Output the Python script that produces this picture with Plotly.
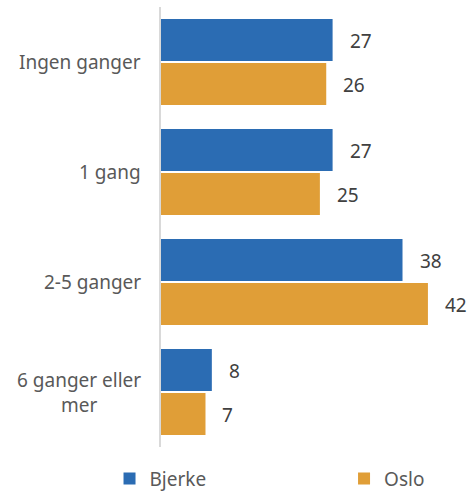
import plotly.graph_objects as go

categories = ["Ingen ganger", "1 gang", "2-5 ganger", "6 ganger eller<br>mer"]
bjerke = [27, 27, 38, 8]
oslo = [26, 25, 42, 7]
series_names = ["Bjerke", "Oslo"]

BLUE = "#2b6cb3"
ORANGE = "#e09e37"
FONT = "Noto Sans"
FS = 19

fig = go.Figure()
fig.add_trace(go.Bar(y=categories, x=bjerke, name=series_names[0], orientation="h",
                     marker=dict(color=BLUE, line=dict(width=0)), legend="legend"))
fig.add_trace(go.Bar(y=categories, x=oslo, name=series_names[1], orientation="h",
                     marker=dict(color=ORANGE, line=dict(width=0)), legend="legend2"))

annotations = []
# data labels
for vals, off in ((bjerke, -0.2), (oslo, 0.2)):
    for i, v in enumerate(vals):
        annotations.append(dict(x=v, y=i + off, xref="x", yref="y", text=str(v),
                                showarrow=False, xanchor="left", xshift=15, yshift=-1,
                                font=dict(family=FONT, size=FS, color="#404040")))
# category labels
for i, c in enumerate(categories):
    annotations.append(dict(x=0, y=i, xref="paper", yref="y", text=c, showarrow=False,
                            xanchor="right", xshift=-18, align="center",
                            font=dict(family=FONT, size=FS, color="#595959")))

legend_common = dict(orientation="h", yanchor="middle", y=-0.072, xanchor="left",
                     bgcolor="rgba(0,0,0,0)", borderwidth=0,
                     font=dict(family=FONT, size=FS, color="#595959"))

fig.update_layout(
    width=469, height=494,
    margin=dict(l=161, r=22, t=7, b=47, autoexpand=False),
    paper_bgcolor="white", plot_bgcolor="white",
    barmode="group", bargap=0.2, bargroupgap=0.04,
    font=dict(family=FONT, size=FS, color="#595959"),
    xaxis=dict(range=[0, 45], showgrid=False, zeroline=False, showticklabels=False,
               showline=False, fixedrange=True),
    yaxis=dict(type="category", categoryorder="array", categoryarray=categories,
               autorange="reversed", showticklabels=False, showgrid=False,
               showline=True, linecolor="#d9d9d9", linewidth=2, ticks=""),
    legend=dict(legend_common, x=-0.18),
    legend2=dict(legend_common, x=0.64),
    annotations=annotations,
    showlegend=True,
)

fig.write_html("out.html", config={"displayModeBar": False},
               post_script="document.body.style.margin='0';document.body.style.overflow='hidden';")
